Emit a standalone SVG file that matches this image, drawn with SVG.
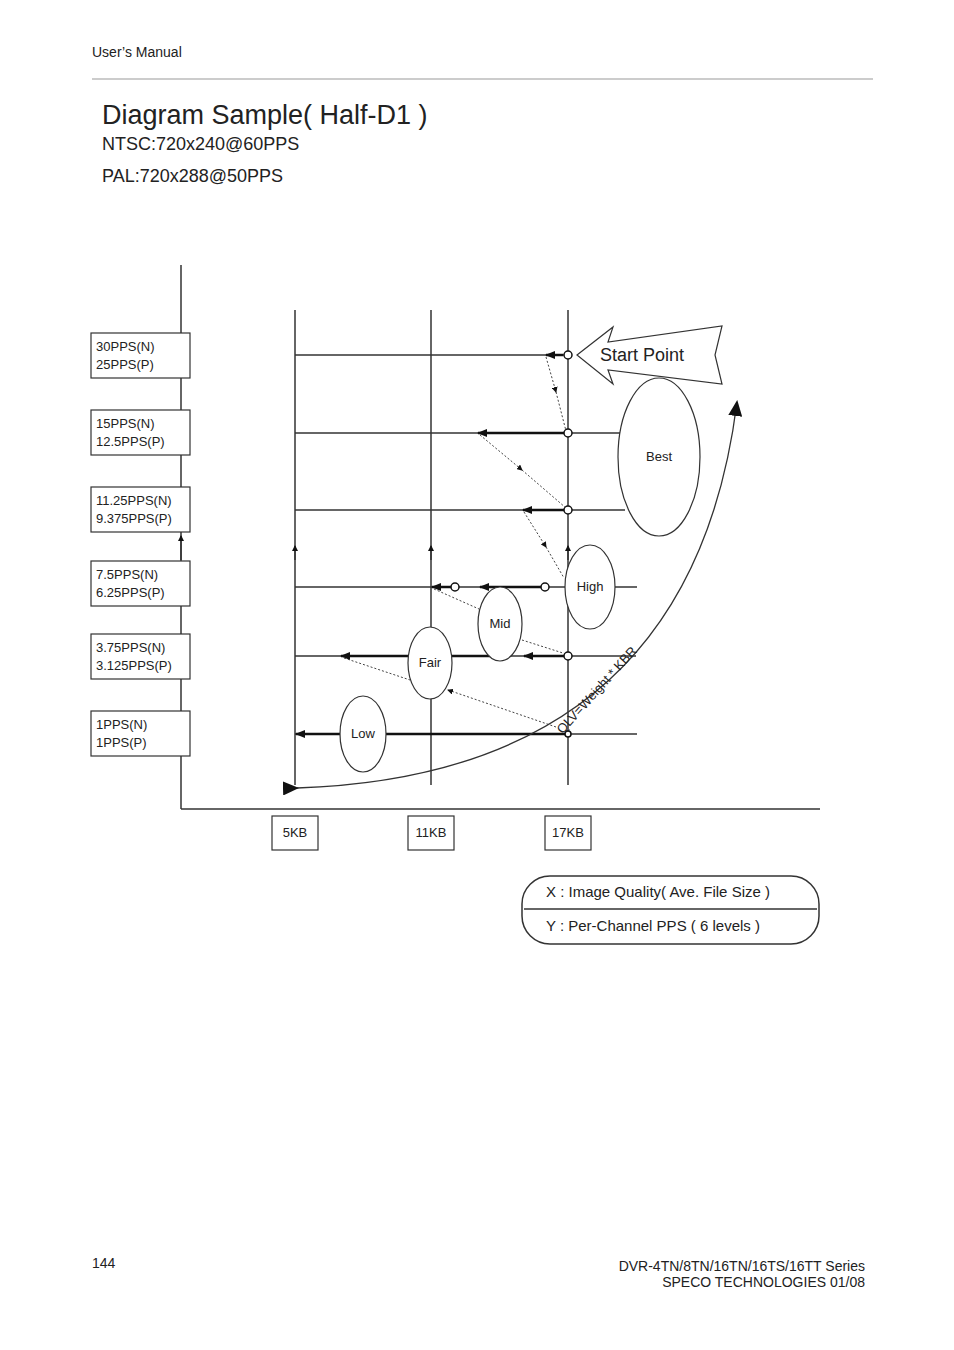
<svg xmlns="http://www.w3.org/2000/svg" width="954" height="1350" viewBox="0 0 954 1350">
<style>
text{font-family:"Liberation Sans",Arial,sans-serif;fill:#222}
.ln{stroke:#333;stroke-width:1.5;fill:none}
.th{stroke:#111;stroke-width:2.5;fill:none}
.dt{stroke:#444;stroke-width:1;stroke-dasharray:2 2;fill:none}
.bx{fill:#fff;stroke:#333;stroke-width:1.2}
.s{font-size:13px}
</style>
<defs>
<marker id="a" markerWidth="10" markerHeight="8" refX="9" refY="4" orient="auto" markerUnits="userSpaceOnUse"><path d="M0,0L10,4L0,8z" fill="#111"/></marker>
<marker id="sa" markerWidth="6" markerHeight="6" refX="5" refY="3" orient="auto" markerUnits="userSpaceOnUse"><path d="M0,0L6,3L0,6z" fill="#111"/></marker>
<marker id="ba" markerWidth="16" markerHeight="14" refX="14" refY="7" orient="auto" markerUnits="userSpaceOnUse"><path d="M0,0L16,7L0,14z" fill="#111"/></marker>
</defs>
<text x="92" y="57" font-size="14">User’s Manual</text>
<line x1="92" y1="79" x2="873" y2="79" stroke="#999"/>
<text x="102" y="124" font-size="27">Diagram Sample( Half-D1 )</text>
<text x="102" y="150" font-size="18">NTSC:720x240@60PPS</text>
<text x="102" y="182" font-size="18">PAL:720x288@50PPS</text>
<g id="connectors">
<line class="ln" x1="181" y1="265" x2="181" y2="809"/>
<line class="ln" x1="181" y1="809" x2="820" y2="809"/>
<line class="ln" x1="181" y1="560" x2="181" y2="536" marker-end="url(#sa)"/>
<line class="ln" x1="295" y1="310" x2="295" y2="785"/>
<line class="ln" x1="431" y1="310" x2="431" y2="785"/>
<line class="ln" x1="568" y1="310" x2="568" y2="785"/>
<line class="ln" x1="295" y1="560" x2="295" y2="546" marker-end="url(#sa)"/>
<line class="ln" x1="431" y1="560" x2="431" y2="546" marker-end="url(#sa)"/>
<line class="ln" x1="568" y1="560" x2="568" y2="546" marker-end="url(#sa)"/>
<line class="ln" x1="295" y1="355" x2="568" y2="355"/>
<line class="ln" x1="295" y1="433" x2="620" y2="433"/>
<line class="ln" x1="295" y1="510" x2="625" y2="510"/>
<line class="ln" x1="295" y1="587" x2="637" y2="587"/>
<line class="ln" x1="295" y1="656" x2="636" y2="656"/>
<line class="ln" x1="295" y1="734" x2="637" y2="734"/>
<line class="th" x1="563" y1="355" x2="546" y2="355" marker-end="url(#a)"/>
<line class="th" x1="568" y1="433" x2="478" y2="433" marker-end="url(#a)"/>
<line class="th" x1="568" y1="510" x2="523" y2="510" marker-end="url(#a)"/>
<line class="th" x1="541" y1="587" x2="480" y2="587" marker-end="url(#a)"/>
<line class="th" x1="451" y1="587" x2="432" y2="587" marker-end="url(#a)"/>
<line class="th" x1="568" y1="656" x2="524" y2="656" marker-end="url(#a)"/>
<line class="th" x1="500" y1="656" x2="341" y2="656" marker-end="url(#a)"/>
<line class="th" x1="568" y1="734" x2="296" y2="734" marker-end="url(#a)"/>
<path class="dt" d="M546,357L556,392" marker-end="url(#sa)"/><path class="dt" d="M556,392L566,431"/>
<path class="dt" d="M480,435L522,470" marker-end="url(#sa)"/><path class="dt" d="M522,470L566,508"/>
<path class="dt" d="M524,512L546,547" marker-end="url(#sa)"/><path class="dt" d="M546,547L564,578"/>
<path class="dt" d="M434,589L479,609"/>
<path class="dt" d="M522,640L566,654"/>
<path class="dt" d="M344,658L410,680"/>
<path class="dt" d="M556,727L448,690" marker-end="url(#sa)"/>
<path class="ln" d="M297,788Q690,775 737,402" marker-start="url(#ba)" marker-end="url(#ba)" style="stroke-width:1.3"/>
<g fill="#fff" stroke="#111" stroke-width="1.5">
<circle cx="568" cy="355" r="4"/><circle cx="568" cy="433" r="4"/><circle cx="568" cy="510" r="4"/>
<circle cx="545" cy="587" r="4"/><circle cx="455" cy="587" r="4"/><circle cx="568" cy="656" r="4"/><circle cx="568" cy="734" r="3"/>
</g>
</g>
<g id="start"><polygon points="577,355 613,327 608,342 722,326 715,355 722,384 608,370 613,384" fill="#fff" stroke="#333" stroke-width="1.2"/><text x="600" y="361" font-size="18">Start Point</text></g>
<g id="best"><ellipse class="bx" cx="659" cy="457" rx="41" ry="79"/><text class="s" x="659" y="461" text-anchor="middle">Best</text></g>
<g id="high"><ellipse class="bx" cx="590" cy="587" rx="25" ry="42"/><text class="s" x="590" y="591" text-anchor="middle">High</text></g>
<g id="mid"><ellipse class="bx" cx="500" cy="624" rx="22" ry="37"/><text class="s" x="500" y="628" text-anchor="middle">Mid</text></g>
<g id="fair"><ellipse class="bx" cx="430" cy="663" rx="22" ry="36"/><text class="s" x="430" y="667" text-anchor="middle">Fair</text></g>
<g id="low"><ellipse class="bx" cx="363" cy="734" rx="23" ry="38"/><text class="s" x="363" y="738" text-anchor="middle">Low</text></g>
<text class="s" transform="translate(600,693) rotate(-48)" text-anchor="middle">QLV=Weight * KBR</text>
<g id="y1"><rect class="bx" x="91" y="333" width="99" height="45"/><text class="s" x="96" y="351">30PPS(N)</text><text class="s" x="96" y="369">25PPS(P)</text></g>
<g id="y2"><rect class="bx" x="91" y="410" width="99" height="45"/><text class="s" x="96" y="428">15PPS(N)</text><text class="s" x="96" y="446">12.5PPS(P)</text></g>
<g id="y3"><rect class="bx" x="91" y="487" width="99" height="45"/><text class="s" x="96" y="505">11.25PPS(N)</text><text class="s" x="96" y="523">9.375PPS(P)</text></g>
<g id="y4"><rect class="bx" x="91" y="561" width="99" height="45"/><text class="s" x="96" y="579">7.5PPS(N)</text><text class="s" x="96" y="597">6.25PPS(P)</text></g>
<g id="y5"><rect class="bx" x="91" y="634" width="99" height="45"/><text class="s" x="96" y="652">3.75PPS(N)</text><text class="s" x="96" y="670">3.125PPS(P)</text></g>
<g id="y6"><rect class="bx" x="91" y="711" width="99" height="45"/><text class="s" x="96" y="729">1PPS(N)</text><text class="s" x="96" y="747">1PPS(P)</text></g>
<g id="x1"><rect class="bx" x="272" y="816" width="46" height="34"/><text class="s" x="295" y="837" text-anchor="middle">5KB</text></g>
<g id="x2"><rect class="bx" x="408" y="816" width="46" height="34"/><text class="s" x="431" y="837" text-anchor="middle">11KB</text></g>
<g id="x3"><rect class="bx" x="545" y="816" width="46" height="34"/><text class="s" x="568" y="837" text-anchor="middle">17KB</text></g>
<g id="legend"><rect x="522" y="876" width="297" height="68" rx="28" fill="#fff" stroke="#333" stroke-width="1.5"/><line x1="524" y1="909" x2="817" y2="909" stroke="#333" stroke-width="1.5"/><text x="546" y="897" font-size="15">X : Image Quality( Ave. File Size )</text><text x="546" y="931" font-size="15">Y : Per-Channel PPS ( 6 levels )</text></g>
<text x="92" y="1268" font-size="14">144</text>
<text x="865" y="1271" font-size="14" text-anchor="end">DVR-4TN/8TN/16TN/16TS/16TT Series</text>
<text x="865" y="1287" font-size="14" text-anchor="end">SPECO TECHNOLOGIES 01/08</text>
</svg>
